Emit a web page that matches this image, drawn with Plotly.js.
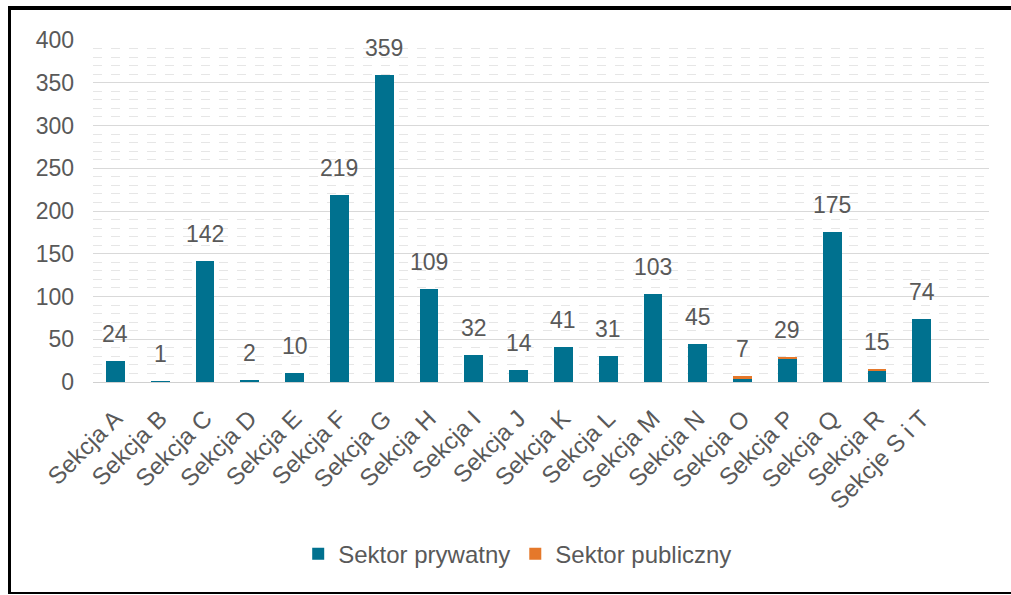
<!DOCTYPE html>
<html>
<head>
<meta charset="utf-8">
<script src="https://cdn.plot.ly/plotly-3.0.1.min.js"></script>
<style>
  html, body { margin: 0; padding: 0; background: #ffffff; width: 1011px; height: 595px; overflow: hidden; }
  #wrap { position: absolute; left: 8px; top: 6px; width: 1003px; height: 582px;
          border-left: 3px solid #000; border-top: 4px solid #000; border-bottom: 2px solid #000; }
  #chart { width: 1000px; height: 582px; }
</style>
</head>
<body>
<div id="wrap"><div id="chart"></div></div>
<script>
const categories = ['Sekcja A','Sekcja B','Sekcja C','Sekcja D','Sekcja E','Sekcja F','Sekcja G','Sekcja H','Sekcja I','Sekcja J','Sekcja K','Sekcja L','Sekcja M','Sekcja N','Sekcja O','Sekcja P','Sekcja Q','Sekcja R','Sekcje S i T'];
const privateSector = [24, 1, 142, 2, 10, 219, 359, 109, 32, 14, 41, 31, 103, 45, 4, 27, 175, 13, 74];
const publicSector  = [0, 0, 0, 0, 0, 0, 0, 0, 0, 0, 0, 0, 0, 0, 3, 2, 0, 2, 0];
const totals        = [24, 1, 142, 2, 10, 219, 359, 109, 32, 14, 41, 31, 103, 45, 7, 29, 175, 15, 74];
const yTicks = [0, 50, 100, 150, 200, 250, 300, 350, 400];

const FONT = 'Liberation Sans, Arial, sans-serif';
const GRAY = '#595959';
const idx = categories.map((_, i) => i);

const traces = [
  { type: 'bar', name: 'Sektor prywatny', x: idx, y: privateSector,
    marker: { color: '#00718f' }, width: 0.42, hoverinfo: 'skip' },
  { type: 'bar', name: 'Sektor publiczny', x: idx, y: publicSector,
    marker: { color: '#e5782a' }, width: 0.42, hoverinfo: 'skip' }
];

const annotations = totals.map((t, i) => ({
  x: i, y: t, xref: 'x', yref: 'y', text: String(t), showarrow: false,
  yanchor: 'bottom', yshift: 12, font: { family: FONT, size: 23, color: GRAY }
}));

const layout = {
  width: 1000, height: 582,
  margin: { l: 82, r: 22, t: 30, b: 210 },
  paper_bgcolor: '#ffffff', plot_bgcolor: '#ffffff',
  barmode: 'stack',
  showlegend: true,
  legend: { orientation: 'h', x: 0.474, xanchor: 'center', y: -0.503, yanchor: 'middle',
            font: { family: FONT, size: 24, color: GRAY }, traceorder: 'normal' },
  xaxis: {
    range: [-0.5, 19.5], tickmode: 'array', tickvals: idx, ticktext: categories,
    tickangle: -45, tickfont: { family: FONT, size: 24, color: GRAY }, ticklabelstandoff: 12,
    showgrid: false, showline: true, linecolor: '#d0d0d0', linewidth: 1, ticks: '', zeroline: false
  },
  yaxis: {
    range: [0, 400], tickmode: 'array', tickvals: yTicks, ticktext: yTicks.map(String),
    tickfont: { family: FONT, size: 23, color: GRAY }, ticks: '', ticklabelstandoff: 18,
    showgrid: true, gridcolor: '#d9d9d9', gridwidth: 1, zeroline: false,
    minor: { dtick: 10, showgrid: true, gridcolor: '#e6e6e6', griddash: 'dash', gridwidth: 1 }
  },
  annotations: annotations
};

Plotly.newPlot('chart', traces, layout, { displayModeBar: false, staticPlot: true });
</script>
</body>
</html>
